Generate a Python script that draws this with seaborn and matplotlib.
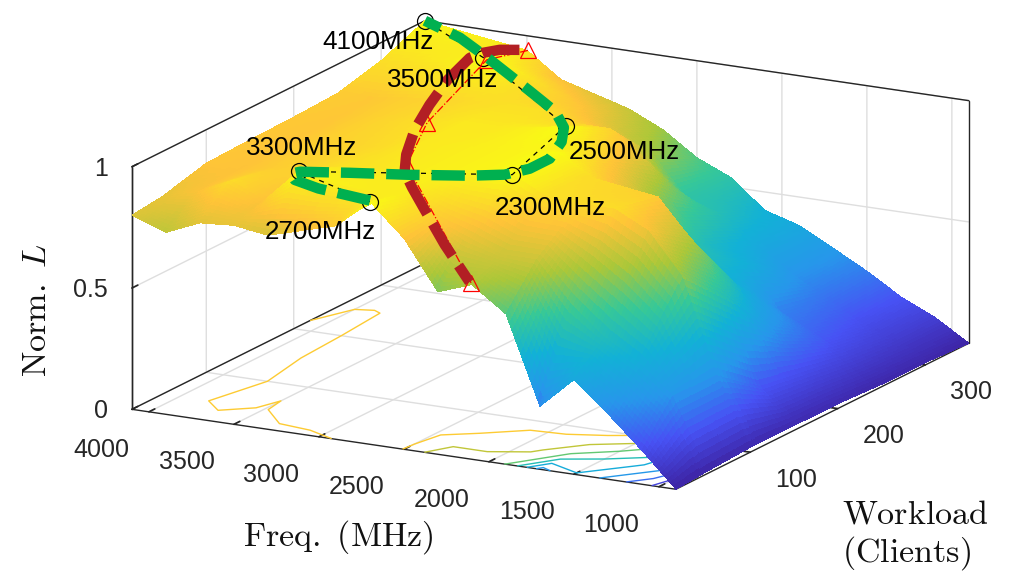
import numpy as np
import matplotlib
matplotlib.use("Agg")
import matplotlib.pyplot as plt
import seaborn as sns

# surface grid
workload_levels = [15, 50, 100, 150, 200, 250, 300, 350]
freq_levels = [900, 1100, 1300, 1500, 1700, 1900, 2100, 2300, 2500, 2700, 2900, 3100, 3300, 3500, 3700, 3900, 4100]
norm_l = [
    [0.00, 0.01, 0.02, 0.02, 0.02, 0.01, 0.01, 0.00],
    [0.14, 0.30, 0.30, 0.16, 0.13, 0.10, 0.08, 0.086],
    [0.27, 0.42, 0.68, 0.50, 0.30, 0.18, 0.14, 0.15],
    [0.39, 0.50, 0.85, 0.72, 0.45, 0.25, 0.22, 0.235],
    [0.26, 0.62, 0.92, 0.88, 0.48, 0.42, 0.30, 0.31],
    [0.62, 0.78, 0.92, 0.90, 0.60, 0.47, 0.40, 0.383],
    [0.72, 0.78, 0.93, 0.92, 0.78, 0.60, 0.50, 0.424],
    [0.67, 0.83, 1.00, 1.00, 0.90, 0.80, 0.54, 0.539],
    [0.87, 0.885, 0.98, 0.98, 1.00, 0.90, 0.70, 0.60],
    [1.00, 0.96, 0.97, 0.97, 0.97, 0.90, 0.78, 0.695],
    [0.88, 0.96, 0.96, 0.96, 0.95, 0.93, 0.85, 0.76],
    [0.84, 0.97, 0.94, 0.95, 0.95, 0.93, 0.90, 0.80],
    [0.80, 1.00, 0.93, 0.92, 0.93, 0.92, 0.96, 0.84],
    [0.82, 0.86, 0.90, 0.90, 0.91, 0.90, 1.00, 0.94],
    [0.81, 0.92, 0.88, 0.89, 0.89, 0.89, 0.96, 0.96],
    [0.75, 0.85, 0.855, 0.86, 0.865, 0.87, 0.94, 0.98],
    [0.80, 0.815, 0.862, 0.868, 0.872, 0.88, 0.925, 1.00],
]
contour_levels = [0.1, 0.2, 0.3, 0.4, 0.5, 0.625, 0.75, 0.875]

# thick green path
green_workload = [17, 21, 25, 34, 44, 50, 61, 73, 87, 98, 115, 138, 171, 197, 223, 253, 298, 329, 350]
green_freq = [2710, 2880, 3055, 3240, 3315, 3290, 3055, 2765, 2485, 2335, 2275, 2275, 2375, 2495, 2680, 2985, 3450, 3785, 4100]
green_l = [1.0] * 19

# thick red path
red_workload = [323, 318, 308, 296, 251, 202, 154, 108, 77, 51, 20, 66, 92]
red_freq = [3405, 3495, 3545, 3558, 3458, 3312, 3152, 2965, 2815, 2637, 2414, 2523, 2510]
red_l = [1, 1, 1, 1, 1, 1, 1, 1, 1, 1, 1, 0.75, 0.55]

# circle markers (thin black line)
peak_workload = [15, 50, 100, 200, 300, 350]
peak_freq = [2700, 3300, 2300, 2500, 3500, 4100]
peak_l = [1, 1, 1, 1, 1, 1]

# triangle markers (thin red line)
tri_workload = [350, 297, 170, 90, 91]
tri_freq = [3494, 3463, 3161, 2869, 2496]
tri_l = [0.94, 1, 1, 1, 0.55]

parula_colors = ["#3E26A8", "#4752F4", "#2796EB", "#12B1D6", "#37C897", "#ABC739", "#FEC338", "#F9FB14"]

W, H = 1015, 576
W_MIN, W_MAX = 15, 350
F_MIN, F_MAX = 900, 4100

sns.set_theme(style="whitegrid", rc={"grid.color": "#dedede", "grid.linewidth": 1.0})
plt.rcParams["font.family"] = ["Liberation Sans", "DejaVu Sans"]
plt.rcParams["mathtext.fontset"] = "cm"

parula = sns.blend_palette(parula_colors, n_colors=256, as_cmap=True)

fig = plt.figure(figsize=(W / 100, H / 100), dpi=100)
ax = fig.add_axes([98 / W, -131.4 / H, 881 / W, 881 / H], projection="3d", proj_type="ortho", computed_zorder=False)
ax.set_box_aspect((614, 619, 252))
ax.view_init(elev=15.7, azim=-151.5)

ax.set_xlim(W_MIN, W_MAX)
ax.set_ylim(F_MIN, F_MAX)
ax.set_zlim(0, 1)
ax.set_xticks([100, 200, 300])
ax.set_yticks([1000, 1500, 2000, 2500, 3000, 3500, 4000])
ax.set_zticks([0, 0.5, 1])
ax.set_zticklabels(["0", "0.5", "1"])
ax.tick_params(labelsize=18, labelcolor="#262626", color="#262626", width=1.0)
ax.tick_params(axis="x", pad=20)
ax.tick_params(axis="y", pad=14)
ax.tick_params(axis="z", pad=1.5)
for lab in ax.get_xticklabels():
    lab.set_va("center")
for lab in ax.get_yticklabels():
    lab.set_ha("right")
    lab.set_va("top")
for lab in ax.get_zticklabels():
    lab.set_ha("right")
    lab.set_va("center")

for axis in (ax.xaxis, ax.yaxis, ax.zaxis):
    axis.set_pane_color((1, 1, 1, 1))
    axis.line.set_color("#262626")
    axis.line.set_linewidth(1.0)
    axis._axinfo["tick"]["inward_factor"] = 0.0
    axis._axinfo["tick"]["outward_factor"] = 0.25

# box outline behind the surface
box_edges = [
    ([W_MIN, W_MAX], [F_MAX, F_MAX], [0, 0]),
    ([W_MAX, W_MAX], [F_MIN, F_MAX], [0, 0]),
    ([W_MIN, W_MAX], [F_MAX, F_MAX], [1, 1]),
    ([W_MAX, W_MAX], [F_MIN, F_MAX], [1, 1]),
    ([W_MIN, W_MIN], [F_MAX, F_MAX], [0, 1]),
    ([W_MAX, W_MAX], [F_MIN, F_MIN], [0, 1]),
    ([W_MAX, W_MAX], [F_MAX, F_MAX], [0, 1]),
]
for ex, ey, ez in box_edges:
    ax.plot(ex, ey, ez, color="#262626", lw=1.0, zorder=0.5)

# floor contours
grid_w, grid_f = np.meshgrid(workload_levels, freq_levels)
grid_l = np.array(norm_l)
ax.contour(grid_w, grid_f, grid_l, levels=contour_levels, zdir="z", offset=0, cmap=parula, vmin=0, vmax=1,
           linewidths=1.0, zorder=1)


# MATLAB "shading interp" look: split every grid cell so the colour runs smoothly
def refine(values, axis, steps=12):
    count = values.shape[axis]
    pos = np.linspace(0, count - 1, (count - 1) * steps + 1)
    return np.apply_along_axis(lambda v: np.interp(pos, np.arange(count), v), axis, values)


fine_w = refine(refine(grid_w.astype(float), 0), 1)
fine_f = refine(refine(grid_f.astype(float), 0), 1)
fine_l = refine(refine(grid_l, 0), 1)
surf = ax.plot_surface(fine_w, fine_f, fine_l, rstride=1, cstride=1, facecolors=parula(fine_l), shade=False,
                       linewidth=0, antialiased=False, zorder=2)
surf.set_edgecolor("none")

# thin lines with markers
ax.plot(peak_workload, peak_freq, peak_l, color="black", lw=0.9, ls=(0, (4, 4)), marker="o", ms=11.5,
        mfc="none", mec="black", mew=0.9, zorder=3)
ax.plot(tri_workload, tri_freq, tri_l, color="#FF0000", lw=0.9, ls="-.", marker="^", ms=11.5,
        mfc="none", mec="#FF0000", mew=0.9, zorder=3)

# thick dashed paths
ax.plot(red_workload, red_freq, red_l, color="#B21F24", lw=7.5, ls=(0, (3.6, 1.1)), dash_capstyle="butt", zorder=4)
ax.plot(green_workload, green_freq, green_l, color="#00B050", lw=7.5, ls=(0, (3.2, 1.15)), dash_capstyle="butt", zorder=5)

# frequency labels
labels = ["4100MHz", "3500MHz", "3300MHz", "2500MHz", "2300MHz", "2700MHz"]
label_x = [378, 443, 302, 624, 550, 320]
label_y = [42, 80, 148, 152, 208, 232]
for txt, px, py in zip(labels, label_x, label_y):
    fig.text(px / W, 1 - py / H, txt, fontsize=18.7, color="black", ha="center", va="center", zorder=10)

# axis titles
fig.text(338 / W, 1 - 537 / H, r"$\mathrm{Freq.\ (MHz)}$", fontsize=24.5, color="#111111", ha="center", va="center")
fig.text(37 / W, 1 - 310 / H, r"$\mathrm{Norm.}\ L$", fontsize=24.5, color="#111111", rotation=90, ha="center", va="center")
fig.text(842 / W, 1 - 515 / H, r"$\mathrm{Workload}$", fontsize=24.5, color="#111111", ha="left", va="center")
fig.text(842 / W, 1 - 553 / H, r"$\mathrm{(Clients)}$", fontsize=24.5, color="#111111", ha="left", va="center")

fig.savefig("out.png", dpi=100)
